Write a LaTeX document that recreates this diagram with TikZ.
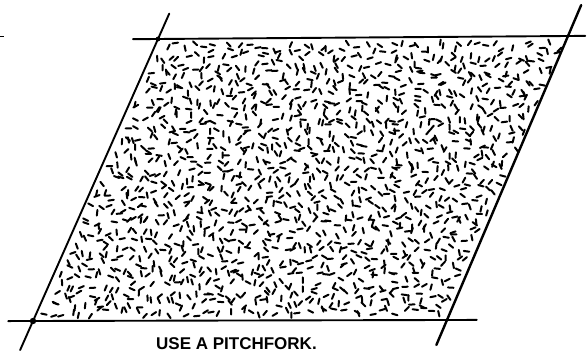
\documentclass[tikz,border=0pt]{standalone}
\usepackage{fontspec}
\setmainfont{Liberation Sans}
\usetikzlibrary{calc}
\begin{document}
\begin{tikzpicture}[x=1pt,y=-1pt,edge/.style={line width=1.9pt,line cap=round},fleck/.style={line width=2pt,line cap=round}]
\useasboundingbox(0,0)rectangle(587,352);
% corners of the patch
\coordinate(tl)at(158,39);\coordinate(tr)at(568,36);\coordinate(bl)at(33,321);\coordinate(br)at(447,320);
% ends of the lines
\coordinate(t0)at($(tl)!-0.061!(tr)$);\coordinate(t1)at($(tr)!-0.042!(tl)$);
\coordinate(b0)at($(bl)!-0.06!(br)$);\coordinate(b1)at($(br)!-0.072!(bl)$);
\coordinate(l0)at($(bl)!-0.103!(tl)$);\coordinate(l1)at($(tl)!-0.09!(bl)$);
\coordinate(r0)at($(br)!-0.088!(tr)$);\coordinate(r1)at($(tr)!-0.109!(br)$);
% stipple, jittered grid
\pgfmathsetseed{42}
\foreach\i in{0,...,45}{\foreach\j in{0,...,30}{\pgfmathsetmacro\u{0.014+0.972*(\i+rnd)/46}\pgfmathsetmacro\v{0.014+0.972*(\j+rnd)/31}\pgfmathsetmacro\a{180*rnd}
\draw[fleck](33+414*\u+125*\v,321-\u-282*\v)++(\a:2.8)--++(\a+180:5.6);}}
\draw[edge](t0)--(t1);\draw[edge](b0)--(b1);
\draw[edge](l0)--(l1);\draw[edge,line width=2.4pt](r0)--(r1);
\fill(bl)circle(3.2pt);\fill(tl)circle(2.4pt);
\draw[line width=1pt](0,37)--(4,37);
\node[font=\bfseries\fontsize{17}{17}\selectfont,anchor=base west,inner sep=0pt](caption)at(156,349.5){USE A PITCHFORK.};
\end{tikzpicture}
\end{document}
